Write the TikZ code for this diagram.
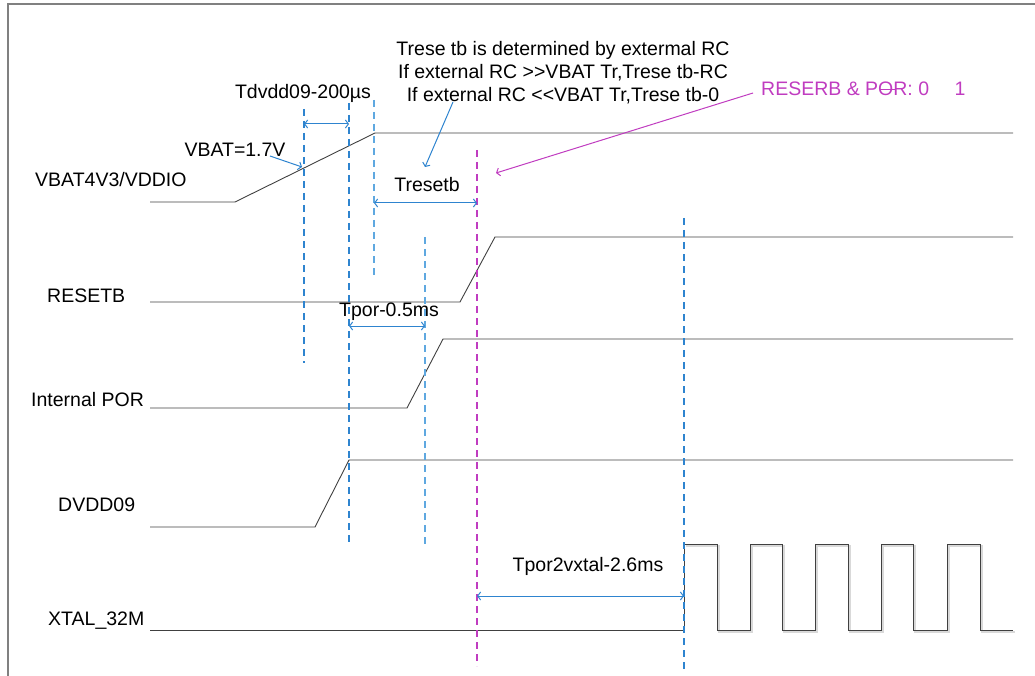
\documentclass[tikz,border=0pt]{standalone}
\usepackage{fontspec}
\setmainfont{Liberation Sans}
\usetikzlibrary{arrows.meta}
\definecolor{sig}{HTML}{404040}
\definecolor{dblue}{HTML}{2E84CF}
\definecolor{lblue}{HTML}{5FA8E0}
\definecolor{mag}{HTML}{C03CC0}
\definecolor{frame}{HTML}{808080}
\tikzset{
  sigline/.style={draw=sig, line width=0.9pt},
  shadowline/.style={draw=black!15, line width=1.2pt},
  guide/.style={draw=dblue, line width=1.1pt, dash pattern=on 7pt off 5pt},
  lguide/.style={draw=lblue, line width=1.3pt, dash pattern=on 7pt off 5pt},
  mguide/.style={draw=mag, line width=1.1pt, dash pattern=on 7pt off 5pt},
  dimarrow/.style={draw=dblue, line width=1pt, {Straight Barb[length=3pt,width=8pt]}-{Straight Barb[length=3pt,width=8pt]}},
  notearrow/.style={draw=dblue, line width=1pt, -{Straight Barb[length=3pt,width=8pt]}},
  magarrow/.style={draw=mag, line width=1pt, -{Straight Barb[length=3pt,width=8pt]}},
  txt/.style={inner sep=0pt, font=\fontsize{19.5}{23}\selectfont, text=black},
  mtxt/.style={inner sep=0pt, font=\fontsize{19.5}{23}\selectfont, text=mag},
}
\begin{document}
\begin{tikzpicture}[x=1pt,y=-1pt]
\useasboundingbox (0,0) rectangle (1035,676);
% frame
\draw[frame, line width=1.5pt] (8,676) -- (8,4) -- (1035,4);

% signal labels
\node[txt, anchor=west] (lvbat) at (35,180) {VBAT4V3/VDDIO};
\node[txt, anchor=west] (lrst) at (47,296) {RESETB};
\node[txt, anchor=west] (lpor) at (31,400) {Internal POR};
\node[txt, anchor=west] (ldvdd) at (58,505) {DVDD09};
\node[txt, anchor=west] (lxtal) at (48,621) {XTAL\_32M};

% signals
\draw[sigline] (150,202) -- (235,202) -- (375,133) -- (1013,133);
\draw[sigline] (150,302) -- (460,302) -- (495,237) -- (1013,237);
\draw[sigline] (150,408) -- (407,408) -- (443,339) -- (1013,339);
\draw[sigline] (150,527) -- (315,527) -- (349,460) -- (1013,460);
\draw[shadowline] (686,546) -- (719,546) -- (719,632) -- (752,632) -- (752,546) -- (784,546) -- (784,632) -- (817,632) -- (817,546) -- (850,546) -- (850,632) -- (883,632) -- (883,546) -- (915,546) -- (915,632) -- (949,632) -- (949,546) -- (982,546) -- (982,632) -- (1015,632);
\draw[sigline] (150,630) -- (684,630) -- (684,544) -- (717,544) -- (717,630) -- (750,630) -- (750,544) -- (782,544) -- (782,630) -- (815,630) -- (815,544) -- (848,544) -- (848,630) -- (881,630) -- (881,544) -- (913,544) -- (913,630) -- (947,630) -- (947,544) -- (980,544) -- (980,630) -- (1013,630);

% guide lines
\coordinate (g1t) at (304,109); \coordinate (g1b) at (304,363);
\coordinate (g2t) at (349,103); \coordinate (g2b) at (349,545);
\coordinate (g3t) at (374,100); \coordinate (g3b) at (374,277);
\coordinate (g4t) at (425,237); \coordinate (g4b) at (425,545);
\coordinate (g5t) at (477,150); \coordinate (g5b) at (477,666);
\coordinate (g6t) at (684,218); \coordinate (g6b) at (684,672);
\draw[guide] (g1t) -- (g1b);
\draw[guide] (g2t) -- (g2b);
\draw[lguide] (g3t) -- (g3b);
\draw[lguide] (g4t) -- (g4b);
\draw[mguide] (g5t) -- (g5b);
\draw[guide] (g6t) -- (g6b);

% dimension arrows
\coordinate (a1l) at (304,124); \coordinate (a1r) at (349,124);
\draw[dimarrow] (a1l) -- (a1r);
\node[txt] (tdvdd) at (303,93) {Tdvdd09-200µs};
\coordinate (a2l) at (374,203); \coordinate (a2r) at (477,203);
\draw[dimarrow] (a2l) -- (a2r);
\node[txt] (treset) at (427,185) {Tresetb};
\coordinate (a3l) at (349,326); \coordinate (a3r) at (425,326);
\draw[dimarrow] (a3l) -- (a3r);
\node[txt] (tpor) at (389,312) {Tpor-0.5ms};
\coordinate (a4l) at (477,596); \coordinate (a4r) at (684,596);
\draw[dimarrow] (a4l) -- (a4r);
\node[txt] (txtal) at (588,566) {Tpor2vxtal-2.6ms};

% VBAT note
\node[txt] (vbatnote) at (235,150) {VBAT=1.7V};
\coordinate (vbs) at (270,156); \coordinate (vbe) at (302,167);
\draw[notearrow] (vbs) -- (vbe);

% RC note
\node[txt, align=center] (rcnote) at (563,73) {Trese tb is determined by extermal RC\\If external RC >{}>VBAT Tr,Trese tb-RC\\If external RC <{}<VBAT Tr,Trese tb-0};
\coordinate (rcs) at (453,102); \coordinate (rce) at (425,167);
\draw[notearrow] (rcs) -- (rce);

% magenta note
\node[mtxt, anchor=west] (pornote) at (761,89) {RESERB \& POR: 0\hspace{1.3em}1};
\draw[mag, line width=0.9pt] (880,89) -- (895,89);
\coordinate (ms) at (753,93); \coordinate (me) at (496,173);
\draw[magarrow] (ms) -- (me);
\end{tikzpicture}
\end{document}
